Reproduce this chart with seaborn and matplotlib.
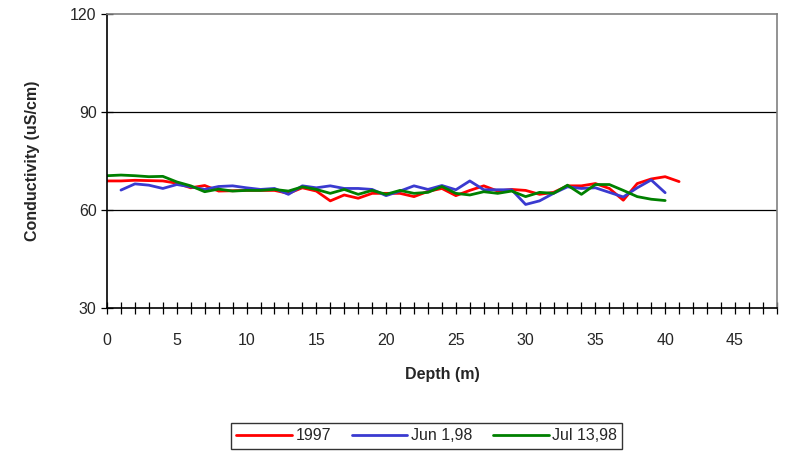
import matplotlib
matplotlib.use("Agg")
import matplotlib.pyplot as plt
import seaborn as sns
import pandas as pd
import numpy as np
from matplotlib.ticker import MultipleLocator

# Data
depth_1997 = list(range(0, 42))
cond_1997 = [68.9, 68.9, 69.1, 69.0, 68.9, 68.2, 66.8, 67.5, 65.8, 65.9,
             66.0, 66.0, 66.0, 65.1, 66.8, 65.8, 62.8, 64.6, 63.6, 65.1,
             65.1, 65.1, 64.1, 65.7, 66.6, 64.4, 66.0, 67.4, 65.8, 66.3,
             66.0, 64.8, 65.4, 67.4, 67.4, 68.1, 66.6, 63.0, 68.1, 69.5,
             70.2, 68.7]
depth_jun = list(range(1, 41))
cond_jun = [66.1, 68.0, 67.6, 66.6, 67.8, 67.1, 66.3, 67.2, 67.4, 66.8,
            66.3, 66.6, 64.8, 67.4, 66.8, 67.4, 66.6, 66.6, 66.3, 64.4,
            65.8, 67.4, 66.3, 67.5, 66.2, 68.9, 66.2, 66.2, 66.2, 61.7,
            62.8, 65.1, 67.1, 66.6, 66.8, 65.4, 64.0, 66.8, 69.2, 65.3]
depth_jul = list(range(0, 41))
cond_jul = [70.5, 70.7, 70.5, 70.2, 70.3, 68.6, 67.4, 65.6, 66.4, 65.8,
            66.0, 66.0, 66.3, 65.8, 67.1, 66.3, 65.1, 66.3, 64.8, 66.0,
            64.8, 66.0, 65.1, 65.4, 67.2, 65.1, 64.6, 65.6, 65.1, 65.8,
            64.1, 65.4, 65.1, 67.6, 64.8, 67.8, 67.8, 66.0, 64.1, 63.3,
            62.9]
series_names = ["1997", "Jun 1,98", "Jul 13,98"]
series_colors = ["#FF0000", "#3A3AD0", "#008000"]

df = pd.concat([
    pd.DataFrame({"Depth": depth_1997, "Cond": cond_1997, "Series": series_names[0]}),
    pd.DataFrame({"Depth": depth_jun, "Cond": cond_jun, "Series": series_names[1]}),
    pd.DataFrame({"Depth": depth_jul, "Cond": cond_jul, "Series": series_names[2]}),
], ignore_index=True)

sns.set_style("white")
plt.rcParams["font.family"] = ["Liberation Sans", "DejaVu Sans"]

fig = plt.figure(figsize=(7.87, 4.51), dpi=100)
ax = fig.add_axes([0.136, 0.317, 0.851, 0.652])

sns.lineplot(data=df, x="Depth", y="Cond", hue="Series", hue_order=series_names,
             palette=dict(zip(series_names, series_colors)), linewidth=2.0,
             ax=ax, legend=False, sort=False, estimator=None)

ax.set_xlim(0, 48)
ax.set_ylim(30, 120)
ax.xaxis.set_major_locator(MultipleLocator(5))
ax.xaxis.set_minor_locator(MultipleLocator(1))
ax.yaxis.set_major_locator(MultipleLocator(30))
ax.tick_params(axis="x", which="both", direction="inout", length=8, width=0.9,
               color="black", labelsize=11.5, pad=14)
ax.tick_params(axis="y", which="major", direction="inout", length=9, width=0.9,
               color="black", labelsize=11.5, pad=3)
ax.tick_params(axis="both", which="both", bottom=True, left=True)

for y in (60, 90):
    ax.axhline(y, color="black", linewidth=0.9, zorder=0)

ax.spines["left"].set_color("black")
ax.spines["bottom"].set_color("black")
ax.spines["top"].set_color("#808080")
ax.spines["right"].set_color("#808080")
for s in ax.spines.values():
    s.set_linewidth(1.2)
    s.set_visible(True)

ax.set_xlabel("Depth (m)", fontsize=11.5, fontweight="bold", labelpad=14)
ax.set_ylabel("Conductivity (uS/cm)", fontsize=11.5, fontweight="bold", labelpad=22)

handles = [plt.Line2D([0], [0], color=c, linewidth=2.0) for c in series_colors]
leg = fig.legend(handles, series_names, loc="lower center", bbox_to_anchor=(0.542, -0.013),
                 ncol=3, frameon=True, fancybox=False, edgecolor="black",
                 fontsize=11.5, handlelength=3.5, handletextpad=0.2, columnspacing=1.3,
                 borderpad=0.35)
leg.get_frame().set_linewidth(1.0)

fig.savefig("out.png", dpi=100)
